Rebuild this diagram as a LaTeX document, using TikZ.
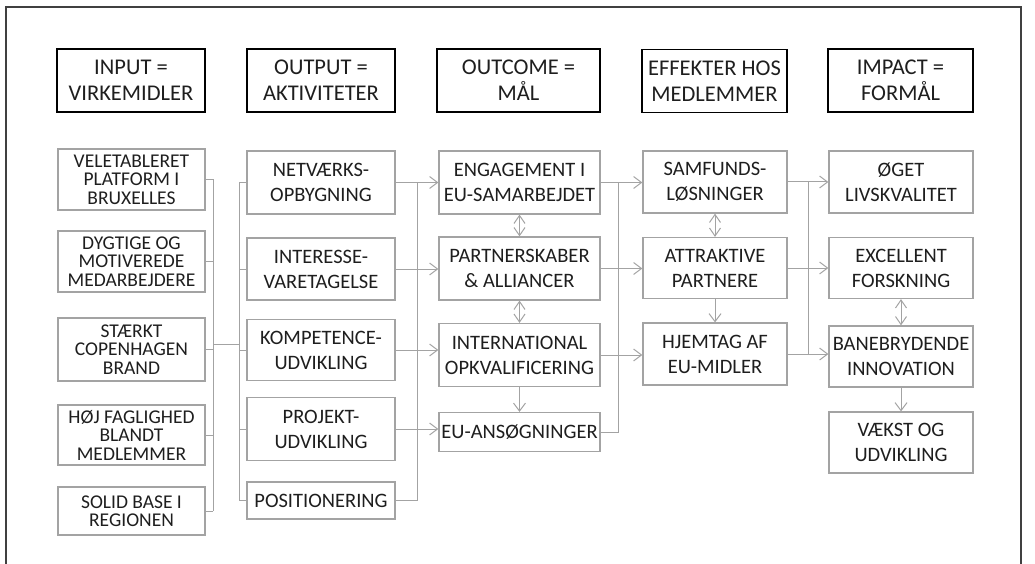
\documentclass[tikz,border=0pt]{standalone}
\usepackage{fontspec}
\setmainfont{Carlito}
\usetikzlibrary{arrows.meta}
\definecolor{boxgray}{HTML}{A3A3A3}
\definecolor{txtgray}{HTML}{1E1E1E}

\begin{document}
\begin{tikzpicture}[x=1pt,y=-1pt,
    head/.style={draw=black,line width=1.6pt,minimum width=#1,minimum height=63pt,inner sep=0pt,
        align=center,text=txtgray,font=\fontsize{22.5}{26}\selectfont},
    box/.style={draw=boxgray,line width=1.2pt,minimum width=#1,inner sep=0pt,
        align=center,text=txtgray,font=\fontsize{20.5}{25}\selectfont},
    tight/.style={font=\fontsize{19.5}{18.5}\selectfont},
    con/.style={draw=boxgray,line width=1pt},
    arr/.style={con,-{Straight Barb[length=8pt,width=12pt]}},
    dbl/.style={con,{Straight Barb[length=8pt,width=11pt]}-{Straight Barb[length=8pt,width=11pt]}}]
    \useasboundingbox (0,0) rectangle (1035,564);
    % frame
    \draw[line width=1.3pt,black!75] (6,564) -- (6,7) -- (1021,7) -- (1021,564);

    % headings
    \node[head=148pt] (hin) at (131,80.5) {INPUT =\\VIRKEMIDLER};
    \node[head=148pt] (hout) at (321,80.5) {OUTPUT =\\AKTIVITETER};
    \node[head=163pt] (hoc) at (518.5,80.5) {OUTCOME =\\MÅL};
    \node[head=145pt] (heff) at (714.5,81) {EFFEKTER HOS\\MEDLEMMER};
    \node[head=145pt] (himp) at (900.5,80.5) {IMPACT =\\FORMÅL};

    % input
    \node[box=147pt,tight,minimum height=61pt] (vel) at (131.5,179.5) {VELETABLERET\\PLATFORM I\\BRUXELLES};
    \node[box=147pt,tight,minimum height=61pt] (dyg) at (131.5,261.5) {DYGTIGE OG\\MOTIVEREDE\\MEDARBEJDERE};
    \node[box=147pt,tight,minimum height=63pt] (stk) at (131.5,349.5) {STÆRKT\\COPENHAGEN\\BRAND};
    \node[box=147pt,tight,minimum height=60pt] (hoj) at (131.5,435) {HØJ FAGLIGHED\\BLANDT\\MEDLEMMER};
    \node[box=147pt,tight,minimum height=48pt] (sol) at (131.5,511) {SOLID BASE I\\REGIONEN};

    % output
    \node[box=148pt,minimum height=63pt] (net) at (321,182.5) {NETVÆRKS-\\OPBYGNING};
    \node[box=148pt,minimum height=62pt] (int) at (321,269) {INTERESSE-\\VARETAGELSE};
    \node[box=148pt,minimum height=61pt] (kom) at (321,350) {KOMPETENCE-\\UDVIKLING};
    \node[box=148pt,minimum height=63pt] (pro) at (321,429) {PROJEKT-\\UDVIKLING};
    \node[box=148pt,minimum height=37pt] (pos) at (321,500.5) {POSITIONERING};

    % outcome
    \node[box=161pt,minimum height=63pt] (eng) at (519.5,182.5) {ENGAGEMENT I\\EU-SAMARBEJDET};
    \node[box=161pt,minimum height=63pt] (par) at (519.5,268.5) {PARTNERSKABER\\\& ALLIANCER};
    \node[box=161pt,minimum height=63pt] (ink) at (519.5,355) {INTERNATIONAL\\OPKVALIFICERING};
    \node[box=161pt,minimum height=39pt] (eua) at (519.5,432) {EU-ANSØGNINGER};

    % effekter
    \node[box=144pt,minimum height=62pt] (sam) at (715,182) {SAMFUNDS-\\LØSNINGER};
    \node[box=144pt,minimum height=61pt] (att) at (715,268) {ATTRAKTIVE\\PARTNERE};
    \node[box=144pt,minimum height=62pt] (hje) at (715,354) {HJEMTAG AF\\EU-MIDLER};

    % impact
    \node[box=144pt,minimum height=62pt] (oeg) at (901,182) {ØGET\\LIVSKVALITET};
    \node[box=144pt,minimum height=61pt] (exc) at (901,268) {EXCELLENT\\FORSKNING};
    \node[box=144pt,minimum height=61pt] (ban) at (901,356.5) {BANEBRYDENDE\\INNOVATION};
    \node[box=144pt,minimum height=61pt] (vks) at (901,442.5) {VÆKST OG\\UDVIKLING};

    % input -> output
    \coordinate (bin) at (213,344);
    \coordinate (bout) at (239,344);
    \foreach \n in {vel,dyg,stk,hoj,sol}
        \draw[con] (\n.east) -- (\n.east -| bin);
    \draw[con] (vel.east -| bin) -- (sol.east -| bin);
    \draw[con] (bin) -- (bout);
    \foreach \n in {net,int,kom,pro,pos}
        \draw[con] (\n.west -| bout) -- (\n.west);
    \draw[con] (net.west -| bout) -- (pos.west -| bout);

    % output -> outcome
    \coordinate (boc) at (417,0);
    \draw[con] (pos.east) -- (pos.east -| boc) -- (net.east -| boc);
    \draw[arr] (net.east) -- (net.east -| eng.west);
    \draw[arr] (int.east) -- (int.east -| par.west);
    \draw[arr] (kom.east) -- (kom.east -| ink.west);
    \draw[arr] (pro.east) -- (pro.east -| eua.west);
    \draw[dbl] (eng.south) -- (par.north);
    \draw[dbl] (par.south) -- (ink.north);
    \draw[arr] (ink.south) -- (eua.north);

    % outcome -> effekter
    \coordinate (beff) at (618,0);
    \draw[con] (eua.east) -- (eua.east -| beff) -- (eng.east -| beff);
    \draw[arr] (eng.east) -- (eng.east -| sam.west);
    \draw[arr] (par.east) -- (par.east -| att.west);
    \draw[arr] (ink.east) -- (ink.east -| hje.west);
    \draw[dbl] (sam.south) -- (att.north);
    \draw[arr] (att.south) -- (hje.north);

    % effekter -> impact
    \coordinate (bimp) at (808,0);
    \draw[con] (hje.east -| bimp) -- (sam.east -| bimp);
    \draw[arr] (sam.east) -- (sam.east -| oeg.west);
    \draw[arr] (att.east) -- (att.east -| exc.west);
    \draw[arr] (hje.east) -- (hje.east -| ban.west);
    \draw[dbl] (exc.south) -- (ban.north);
    \draw[arr] (ban.south) -- (vks.north);
\end{tikzpicture}
\end{document}
